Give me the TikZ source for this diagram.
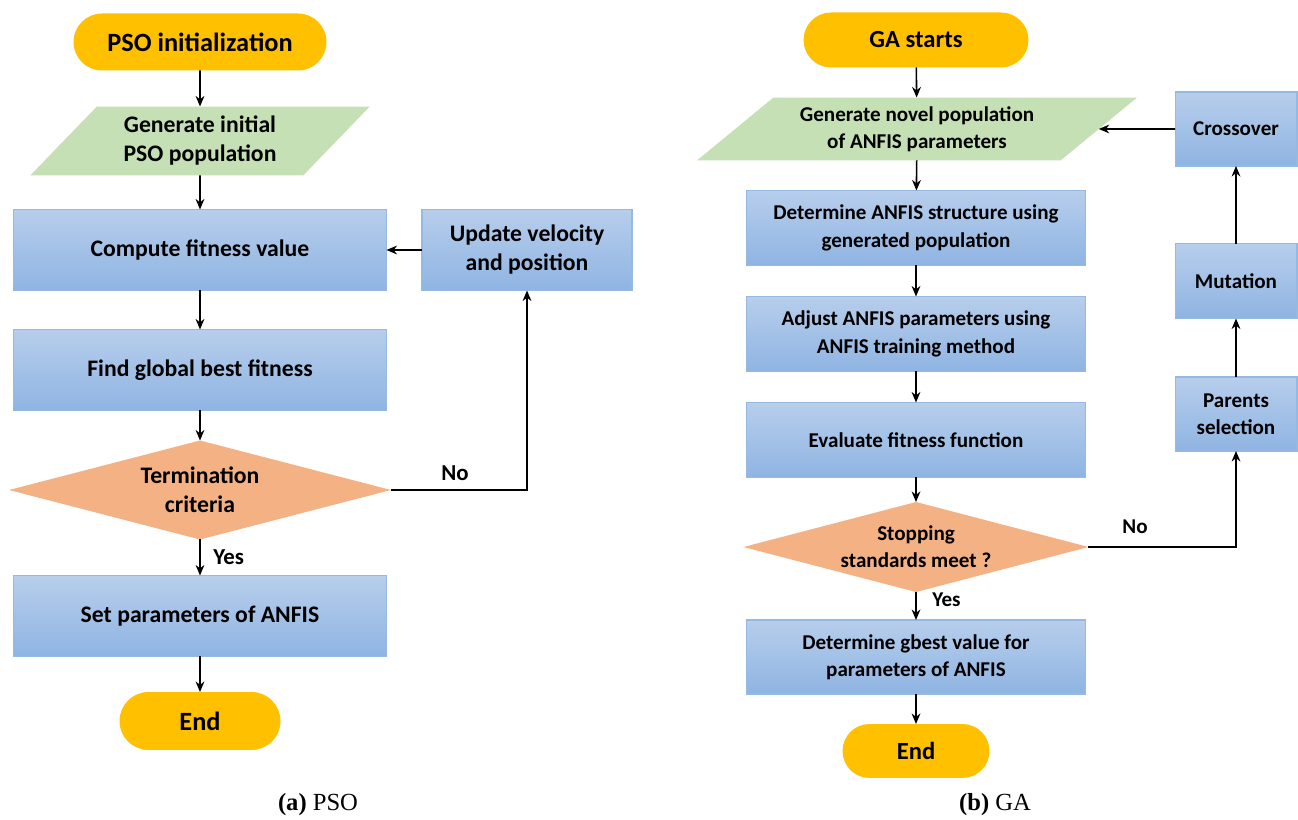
\documentclass[tikz,border=0pt]{standalone}
\usepackage{fontspec}
\setmainfont{Carlito}
\newfontfamily\capfont{Liberation Serif}
\usetikzlibrary{shapes.geometric,arrows.meta}
\definecolor{ylw}{RGB}{255,192,0}
\definecolor{grn}{RGB}{197,224,180}
\definecolor{org}{RGB}{244,177,131}
\definecolor{btop}{RGB}{183,206,236}
\definecolor{bbot}{RGB}{143,180,226}
\definecolor{bdr}{RGB}{150,185,225}
\tikzset{
  base/.style={align=center, inner sep=0pt, outer sep=0pt, text=black, font=\bfseries\fontsize{13.5}{16.5}\selectfont},
  smallf/.style={font=\bfseries\fontsize{12}{15.5}\selectfont},
  stadium/.style={base, rectangle, fill=ylw, font=\bfseries\fontsize{15}{18}\selectfont},
  iobox/.style={base, trapezium, trapezium stretches=true, fill=grn},
  procbox/.style={base, rectangle, top color=btop, bottom color=bbot, draw=bdr, line width=0.6pt},
  decide/.style={base, diamond, fill=org},
  arr/.style={-{Stealth[length=6pt,width=5pt]}, line width=0.9pt, draw=black},
  lbl/.style={font=\bfseries\fontsize{13}{15}\selectfont, inner sep=0pt, anchor=west},
  captext/.style={font=\capfont\fontsize{14}{16}\selectfont, inner sep=0pt}
}
\begin{document}
\begin{tikzpicture}[x=0.02cm,y=-0.02cm]
\useasboundingbox[fill=white] (0,0) rectangle (1298,820);
% ---------- PSO ----------
\node[stadium, minimum width=5.06cm, minimum height=1.14cm, rounded corners=0.57cm] (s1) at (200,42) {PSO initialization};
\node[iobox, trapezium left angle=45, trapezium right angle=135, minimum width=6.8cm, minimum height=1.38cm] (p1) at (200,141) {Generate initial\\PSO population};
\node[procbox, minimum width=7.46cm, minimum height=1.62cm] (c1) at (200,250) {Compute fitness value};
\node[procbox, minimum width=4.2cm, minimum height=1.62cm] (u1) at (527,250) {Update velocity\\and position};
\node[procbox, minimum width=7.46cm, minimum height=1.62cm] (f1) at (200,370) {Find global best fitness};
\node[decide, shape aspect=3.86, minimum width=7.64cm, minimum height=1.98cm] (t1) at (200,490) {Termination\\criteria};
\node[procbox, minimum width=7.46cm, minimum height=1.62cm] (e1) at (200,616) {Set parameters of ANFIS};
\node[stadium, minimum width=3.22cm, minimum height=1.16cm, rounded corners=0.58cm] (n1) at (200,721) {End};
\draw[arr] (s1) -- (p1);
\draw[arr] (p1) -- (c1);
\draw[arr] (c1) -- (f1);
\draw[arr] (f1) -- (t1);
\draw[arr] (t1) -- (e1);
\draw[arr] (e1) -- (n1);
\draw[arr] (u1) -- (c1);
\draw[arr] (t1.east) -| (u1.south);
\node[lbl] (no1) at (441,473) {No};
\node[lbl] (yes1) at (213,557) {Yes};
% ---------- GA ----------
\node[stadium, minimum width=4.5cm, minimum height=1.1cm, rounded corners=0.55cm, font=\bfseries\fontsize{14}{17}\selectfont] (s2) at (916,40) {GA starts};
\node[iobox, smallf, trapezium left angle=36, trapezium right angle=144, minimum width=8.82cm, minimum height=1.26cm] (p2) at (917,129) {Generate novel population\\of ANFIS parameters};
\node[procbox, smallf, minimum width=2.44cm, minimum height=1.48cm] (x2) at (1236,129) {Crossover};
\node[procbox, smallf, minimum width=6.78cm, minimum height=1.5cm] (d2) at (916,228) {Determine ANFIS structure using\\generated population};
\node[procbox, smallf, minimum width=2.44cm, minimum height=1.5cm] (m2) at (1236,281) {Mutation};
\node[procbox, smallf, minimum width=6.78cm, minimum height=1.5cm] (a2) at (916,334) {Adjust ANFIS parameters using\\ANFIS training method};
\node[procbox, smallf, minimum width=2.44cm, minimum height=1.48cm] (r2) at (1236,414) {Parents\\selection};
\node[procbox, smallf, minimum width=6.78cm, minimum height=1.5cm] (v2) at (916,440) {Evaluate fitness function};
\node[decide, smallf, shape aspect=3.83, minimum width=6.9cm, minimum height=1.8cm] (t2) at (916,547) {Stopping\\standards meet ?};
\node[procbox, smallf, minimum width=6.78cm, minimum height=1.48cm] (g2) at (916,657) {Determine gbest value for\\parameters of ANFIS};
\node[stadium, minimum width=2.94cm, minimum height=1.08cm, rounded corners=0.54cm, font=\bfseries\fontsize{14}{17}\selectfont] (n2) at (916,751) {End};
\draw[arr] (s2) -- (p2);
\draw[arr] (p2) -- (d2);
\draw[arr] (d2) -- (a2);
\draw[arr] (a2) -- (v2);
\draw[arr] (v2) -- (t2);
\draw[arr] (t2) -- (g2);
\draw[arr] (g2) -- (n2);
\draw[arr] (t2.east) -| (r2.south);
\draw[arr] (r2) -- (m2);
\draw[arr] (m2) -- (x2);
\draw[arr] (x2) -- (p2);
\node[lbl, font=\bfseries\fontsize{12}{14}\selectfont] (no2) at (1122,527) {No};
\node[lbl, font=\bfseries\fontsize{12}{14}\selectfont] (yes2) at (932,600) {Yes};
% ---------- captions ----------
\node[captext] (ca) at (318,805) {\textbf{(a)} PSO};
\node[captext] (cb) at (995,805) {\textbf{(b)} GA};
\end{tikzpicture}
\end{document}
